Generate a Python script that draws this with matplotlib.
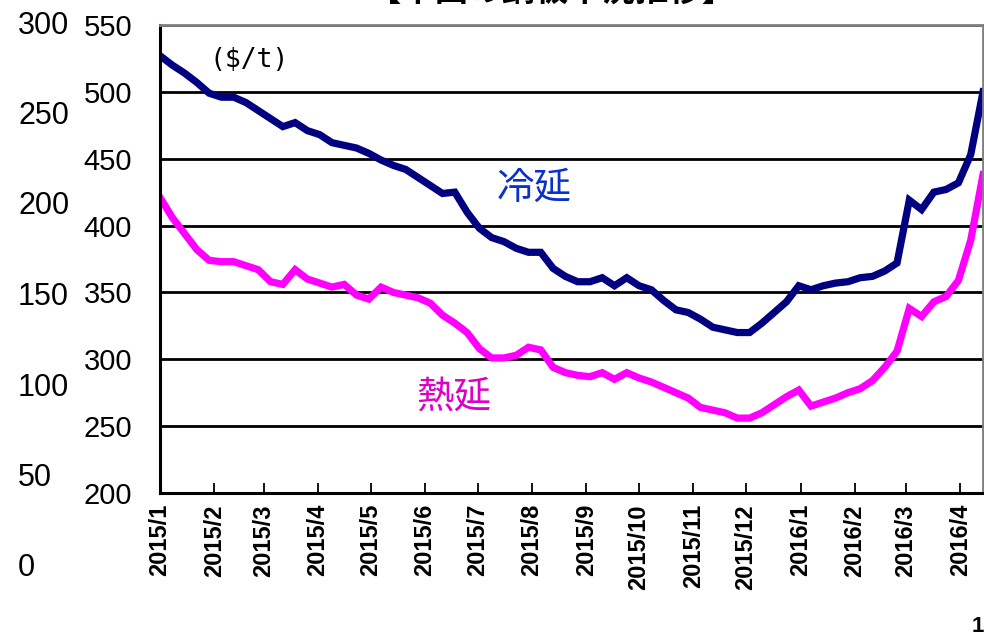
import numpy as np
import pandas as pd
import matplotlib
matplotlib.use("Agg")
import matplotlib.pyplot as plt

# weekly prices, $/t
start_date = "2015-01-01"
cold_rolled = [527, 520, 514, 507, 499, 496, 496, 492, 486, 480,
               474, 477, 471, 468, 462, 460, 458, 454, 449, 445,
               442, 436, 430, 424, 425, 410, 398, 391, 388, 383,
               380, 380, 368, 362, 358, 358, 361, 355, 361, 355,
               352, 344, 337, 335, 330, 324, 322, 320, 320, 327,
               335, 343, 355, 352, 355, 357, 358, 361, 362, 366,
               372, 419, 412, 425, 427, 432, 453, 500]
hot_rolled = [421, 406, 394, 382, 374, 373, 373, 370, 367, 358,
              356, 367, 360, 357, 354, 356, 348, 345, 354, 350,
              348, 346, 342, 333, 327, 320, 308, 301, 301, 303,
              309, 307, 294, 290, 288, 287, 290, 285, 290, 286,
              283, 279, 275, 271, 264, 262, 260, 256, 256, 260,
              266, 272, 277, 265, 268, 271, 275, 278, 284, 294,
              306, 338, 332, 343, 347, 359, 389, 438]
dates = pd.date_range(start_date, periods=len(cold_rolled), freq="7D")

month_ticks = pd.date_range("2015-01-01", "2016-04-01", freq="MS")
month_labels = ["2015/1", "2015/2", "2015/3", "2015/4", "2015/5", "2015/6",
                "2015/7", "2015/8", "2015/9", "2015/10", "2015/11", "2015/12",
                "2016/1", "2016/2", "2016/3", "2016/4"]
price_ticks = [200, 250, 300, 350, 400, 450, 500, 550]
ghost_ticks = [0, 50, 100, 150, 200, 250, 300]

W, H = 984, 639
fig = plt.figure(figsize=(W / 100, H / 100), dpi=100)

sans = ["Liberation Sans", "DejaVu Sans"]
jp = ["Noto Sans CJK JP", "DejaVu Sans"]

# main plot area
ax = fig.add_axes([160 / W, 1 - 493 / H, (983 - 160) / W, (493 - 25) / H])
ax.plot(dates, cold_rolled, color="#000080", lw=5.2, solid_joinstyle="miter")
ax.plot(dates, hot_rolled, color="#ff00ff", lw=5.2, solid_joinstyle="miter")

ax.set_xlim(dates[0], dates[-1])
ax.set_ylim(200, 550)
ax.set_yticks(price_ticks)
ax.set_yticklabels([str(v) for v in price_ticks], family=sans, fontsize=21)
ax.set_xticks(month_ticks)
ax.set_xticklabels(month_labels, rotation=90, family=sans,
                   fontsize=17, fontweight="bold", va="top")
ax.tick_params(axis="y", length=0, pad=20)
ax.tick_params(axis="x", direction="in", length=7, width=1.3, pad=8)
ax.grid(axis="y", color="black", lw=2.0)
ax.set_axisbelow(True)

ax.spines["left"].set_linewidth(2.2)
ax.spines["bottom"].set_linewidth(2.2)
ax.spines["top"].set_color("#808080")
ax.spines["top"].set_linewidth(2.0)
ax.spines["right"].set_color("#808080")
ax.spines["right"].set_linewidth(2.0)

ax.text(0.06, 0.925, "($/t)", transform=ax.transAxes,
        family=["DejaVu Sans Mono", "DejaVu Sans"], fontsize=19,
        ha="left", va="center")
ax.text(0.455, 0.65, "冷延", transform=ax.transAxes, family=jp, fontsize=27,
        color="#0a32c8", ha="center", va="center")
ax.text(0.357, 0.205, "熱延", transform=ax.transAxes, family=jp, fontsize=27,
        color="#dc00c8", ha="center", va="center")

# leftover outer scale
ax2 = fig.add_axes([18 / W, 1 - 565 / H, 0.05, (565 - 22) / H])
ax2.set_ylim(0, 300)
ax2.set_yticks(ghost_ticks)
ax2.set_yticklabels([str(v) for v in ghost_ticks], family=sans, fontsize=22)
for lbl in ax2.get_yticklabels():
    lbl.set_horizontalalignment("left")
ax2.tick_params(axis="y", length=0, pad=0)
ax2.set_xticks([])
ax2.patch.set_visible(False)
for s in ax2.spines.values():
    s.set_visible(False)

fig.text(552 / W, 1 - 1 / H, "【中国の鋼板市況推移】", family=jp, fontsize=24,
         fontweight="bold", ha="center", va="baseline")
fig.text(972 / W, 2 / H, "1", family=sans, fontsize=16,
         fontweight="bold", ha="left", va="bottom")

fig.savefig("out.png", dpi=100)
